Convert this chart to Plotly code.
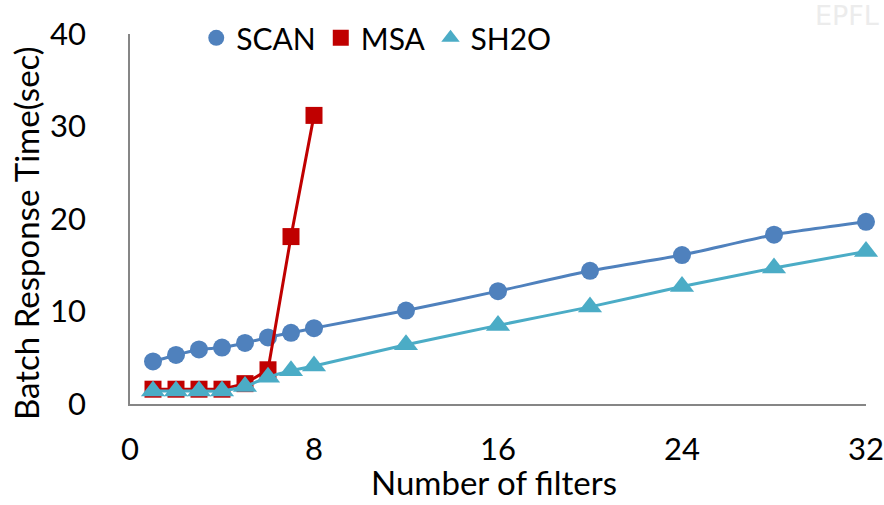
import plotly.graph_objects as go

# Batch response time vs. number of filters
filters = [1, 2, 3, 4, 5, 6, 7, 8, 12, 16, 20, 24, 28, 32]
scan = [4.6, 5.3, 5.9, 6.1, 6.6, 7.2, 7.7, 8.2, 10.1, 12.2, 14.4, 16.1, 18.3, 19.7]
msa_filters = [1, 2, 3, 4, 5, 6, 7, 8]
msa = [1.6, 1.6, 1.6, 1.6, 2.2, 3.7, 18.1, 31.2]
sh2o = [1.4, 1.4, 1.4, 1.4, 1.9, 2.9, 3.6, 4.1, 6.4, 8.5, 10.5, 12.7, 14.7, 16.5]

x_ticks = [0, 8, 16, 24, 32]
y_ticks = [0, 10, 20, 30, 40]

FONT = "Lato"
COLORS = {"SCAN": "#4F81BD", "MSA": "#C00000", "SH2O": "#4BACC6"}

fig = go.Figure()
fig.add_trace(go.Scatter(
    x=filters, y=scan, name="SCAN", mode="lines+markers", showlegend=False,
    line=dict(color=COLORS["SCAN"], width=3, shape="spline", smoothing=0.4),
    marker=dict(symbol="circle", size=18, color=COLORS["SCAN"]),
    cliponaxis=False,
))
fig.add_trace(go.Scatter(
    x=msa_filters, y=msa, name="MSA", mode="lines+markers", showlegend=False,
    line=dict(color=COLORS["MSA"], width=3),
    marker=dict(symbol="square", size=17, color=COLORS["MSA"]),
    cliponaxis=False,
))
fig.add_trace(go.Scatter(
    x=filters, y=sh2o, name="SH2O", mode="lines+markers", showlegend=False,
    line=dict(color=COLORS["SH2O"], width=3, shape="spline", smoothing=0.4),
    marker=dict(symbol="triangle-up", size=21, color=COLORS["SH2O"]),
    cliponaxis=False,
))

# Legend entries: marker symbols only
for name, sym in [("SCAN", "circle"), ("MSA", "square"), ("SH2O", "triangle-up")]:
    fig.add_trace(go.Scatter(
        x=[None], y=[None], name=name, mode="markers",
        marker=dict(symbol=sym, size=18, color=COLORS[name]),
    ))

fig.update_layout(
    width=884, height=505,
    margin=dict(l=130, r=18, t=31, b=101),
    paper_bgcolor="white", plot_bgcolor="white",
    font=dict(family=FONT, size=32, color="black"),
    showlegend=True,
    legend=dict(
        orientation="h", x=0.09, xanchor="left", y=1.06, yanchor="top",
        font=dict(family=FONT, size=30, color="black"),
        itemwidth=30, tracegroupgap=0, bgcolor="rgba(0,0,0,0)",
    ),
    xaxis=dict(
        range=[0, 32], tickvals=x_ticks, ticktext=[str(v) for v in x_ticks],
        showgrid=False, zeroline=False, showline=True,
        linecolor="#868686", linewidth=1.5, ticks="",
        ticklabelstandoff=17, ticklabeloverflow="allow", automargin=False,
        tickfont=dict(family=FONT, size=31),
    ),
    yaxis=dict(
        range=[0, 40], tickvals=y_ticks, ticktext=[str(v) for v in y_ticks],
        showgrid=False, zeroline=False, showline=True,
        linecolor="#868686", linewidth=1.5, ticks="",
        ticklabelstandoff=36, ticklabeloverflow="allow", automargin=False,
        tickfont=dict(family=FONT, size=31),
    ),
)

# Axis titles
fig.add_annotation(
    text="Number of filters", xref="paper", yref="paper", x=0.4946, y=-0.271,
    xanchor="center", yanchor="bottom", showarrow=False,
    font=dict(family=FONT, size=33, color="black"),
)
fig.add_annotation(
    text="Batch Response Time(sec)", xref="paper", yref="paper", x=-0.1406, y=0.461,
    xanchor="center", yanchor="middle", showarrow=False, textangle=-90,
    font=dict(family=FONT, size=33, color="black"),
)

fig.add_annotation(
    text="EPFL", xref="paper", yref="paper", x=1.02, y=1.05,
    xanchor="right", yanchor="middle", showarrow=False,
    font=dict(family="DejaVu Sans", size=27, color="#ececec"),
)

fig.write_html("out.html")
